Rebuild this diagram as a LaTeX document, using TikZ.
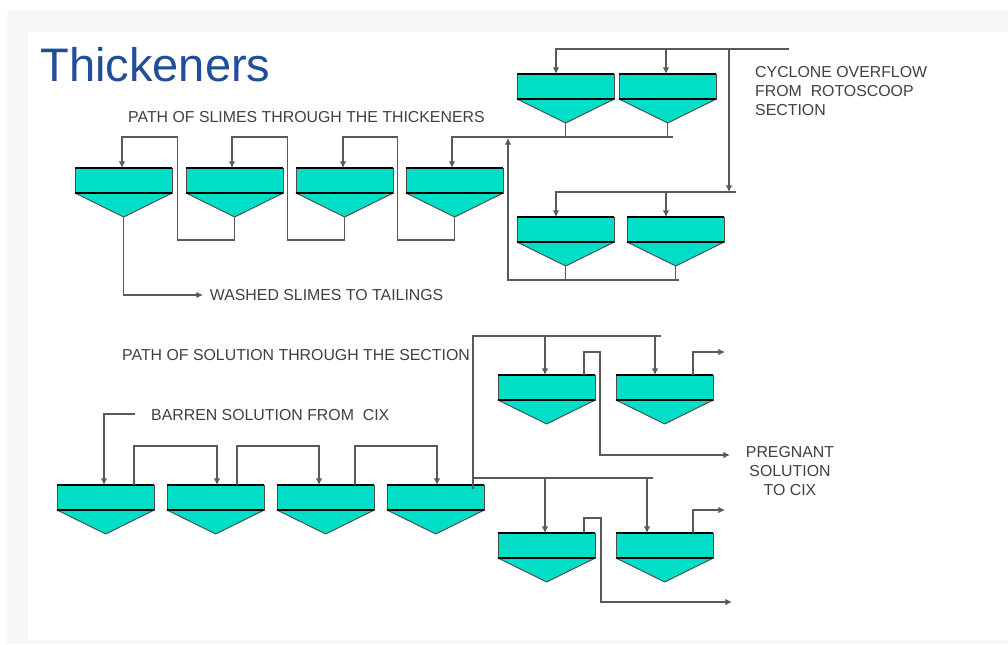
\documentclass[tikz,border=0pt]{standalone}
\usepackage{fontspec}
\setmainfont{Liberation Sans}
\usetikzlibrary{calc,arrows.meta}
\definecolor{tankfill}{RGB}{0,222,200}
\definecolor{titleblue}{RGB}{31,78,155}
\definecolor{paneback}{RGB}{247,247,247}
\tikzset{
  tank/.style={draw=black!70,fill=tankfill,line width=.7pt,anchor=north west,inner sep=0pt,outer sep=0pt,minimum width=73pt,minimum height=18.75pt},
  cone/.style={draw=black!70,fill=tankfill,line width=.7pt,line join=round},
  rim/.style={draw=black,line width=1.3pt},
  pipe/.style={draw=black!65,line width=1pt},
  lbl/.style={text=black!75,font=\fontsize{11.9}{14.25}\selectfont,inner sep=5pt}
}
\begin{document}
\begin{tikzpicture}[x=.75pt,y=-.75pt,>={Latex[length=5pt,width=5pt]}]
  \useasboundingbox (0,0) rectangle (1008,644);

  %page panel
  \fill[paneback] (7,11) rectangle (1008,644);
  \fill[white] (28,32) rectangle (1008,640);

  %title
  \node[anchor=base west,inner sep=0pt,text=titleblue,font=\fontsize{35.3}{40}\selectfont] (title) at (40,81) {Thickeners};

  %thickeners: name/x/y/inlet/outlet
  \foreach \n/\x/\y/\i/\o in {
      c1/517/74/39/0,c2/619/74/47/0,m1/517/217/39/0,m2/627/217/39/0,
      s1/75/168/47/0,s2/186/168/46/0,s3/296/168/47/0,s4/406/168/46/0,
      l1/57/485/47/77,l2/167/485/50/70,l3/277/485/42/78,l4/387/485/50/86,
      r1/498/375/47/86,r2/616/375/39/77,q1/498/533/47/86,q2/616/533/31/77} {
    \node[tank] (\n) at (\x,\y) {};
    \coordinate (\n-tip) at ($(\n.south)+(0,24)$);
    \coordinate (\n-in) at ($(\n.north west)+(\i,0)$);
    \coordinate (\n-out) at ($(\n.north west)+(\o,0)$);
    \draw[cone] (\n.south west) -- (\n-tip) -- (\n.south east) -- cycle;
    \draw[rim] (\n.north west) -- (\n.north east);
    \draw[rim] (\n.south west) -- (\n.south east);
  }

  %labels
  \node[lbl,anchor=west] (slimes) at (121.3,117) {PATH OF SLIMES THROUGH THE THICKENERS};
  \node[lbl,anchor=west] (washed) at (203,295) {WASHED SLIMES TO TAILINGS};
  \node[lbl,anchor=west] (solution) at (115.3,355) {PATH OF SOLUTION THROUGH THE SECTION};
  \node[lbl,anchor=west] (barren) at (144.3,415) {BARREN SOLUTION FROM\ \ CIX};
  \node[lbl,anchor=north west,align=left] (cyclone) at (748.3,59) {CYCLONE OVERFLOW\\FROM\ \ ROTOSCOOP\\SECTION};
  \node[lbl,anchor=north,align=center] (pregnant) at (790,439) {PREGNANT\\SOLUTION\\TO CIX};

  %free ends
  \coordinate (cycin) at (789,49);
  \coordinate (cyctee) at (729,49);
  \coordinate (midend) at (736,192);
  \coordinate (retend) at (673,137);
  \coordinate (botend) at (679,280);
  \coordinate (riser) at (508,138);
  \coordinate (barin) at (135,414);
  \coordinate (solA) at (661,336);
  \coordinate (solB) at (653,478);
  \coordinate (pregA) at (730,455);
  \coordinate (pregB) at (725,352);
  \coordinate (pregC) at (732,602);
  \coordinate (pregD) at (725,510);

  %cyclone feed
  \draw[pipe,->] (cycin) -| (c1-in);
  \draw[pipe,->] (c2-in |- cycin) -- (c2-in);
  \draw[pipe,->] (cyctee) -- (cyctee |- midend);
  \draw[pipe,->] (midend) -| (m1-in);
  \draw[pipe,->] (m2-in |- midend) -- (m2-in);

  %underflow back to the wash row
  \draw[pipe,->] (retend) -| (s4-in);
  \draw[pipe] (c1-tip) -- (c1-tip |- retend);
  \draw[pipe] (c2-tip) -- (c2-tip |- retend);
  \draw[pipe,->] (botend) -| (riser);
  \draw[pipe] (m1-tip) -- (m1-tip |- botend);
  \draw[pipe] (m2-tip) -- (m2-tip |- botend);

  %wash row
  \foreach \a/\b in {s2/s1,s3/s2,s4/s3}
    \draw[pipe,->] (\a-tip) -- ++(0,23) -- ++(-57,0) -- ++(0,-103) -| (\b-in);
  \draw[pipe,->] (s1-tip) |- (washed.west);

  %solution row
  \draw[pipe,->] (barin) -| (l1-in);
  \foreach \a/\b in {l1/l2,l2/l3,l3/l4}
    \draw[pipe,->] (\a-out) -- ++(0,-39) -| (\b-in);
  \draw[pipe] ($(l4-out)+(0,4)$) |- (solA);
  \draw[pipe,->] (r1-in |- solA) -- (r1-in);
  \draw[pipe,->] (r2-in |- solA) -- (r2-in);
  \draw[pipe] (l4-out |- solB) -- (solB);
  \draw[pipe,->] (q1-in |- solB) -- (q1-in);
  \draw[pipe,->] (q2-in |- solB) -- (q2-in);

  %pregnant solution
  \draw[pipe,->] (r1-out) -- ++(0,-23) -- ++(16,0) |- (pregA);
  \draw[pipe,->] (r2-out) |- (pregB);
  \draw[pipe,->] (q1-out) -- ++(0,-15) -- ++(17,0) |- (pregC);
  \draw[pipe,->] (q2-out) |- (pregD);
\end{tikzpicture}
\end{document}
